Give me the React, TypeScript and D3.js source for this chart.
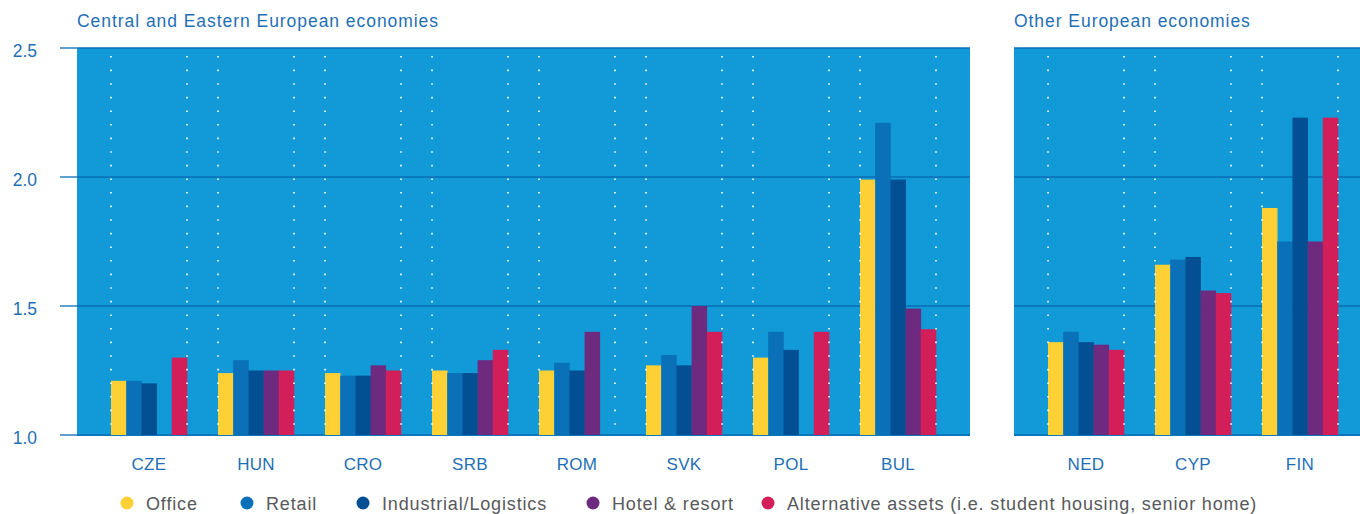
import React from "react";
import * as d3 from "d3";

const seriesNames = ["Office", "Retail", "Industrial/Logistics", "Hotel & resort", "Alternative assets (i.e. student housing, senior home)"];
const seriesColors = ["#fdd035", "#0a70b8", "#034f93", "#6e2a7e", "#d31f59"];

const ceeCategories = ["CZE", "HUN", "CRO", "SRB", "ROM", "SVK", "POL", "BUL"];
const otherCategories = ["NED", "CYP", "FIN"];

// values per category: [Office, Retail, Industrial, Hotel, Alternative]; null = missing
const ceeValues: (number | null)[][] = [
  [1.21, 1.21, 1.2, null, 1.3],
  [1.24, 1.29, 1.25, 1.25, 1.25],
  [1.24, 1.23, 1.23, 1.27, 1.25],
  [1.25, 1.24, 1.24, 1.29, 1.33],
  [1.25, 1.28, 1.25, 1.4, null],
  [1.27, 1.31, 1.27, 1.5, 1.4],
  [1.3, 1.4, 1.33, null, 1.4],
  [1.99, 2.21, 1.99, 1.49, 1.41],
];
const otherValues: (number | null)[][] = [
  [1.36, 1.4, 1.36, 1.35, 1.33],
  [1.66, 1.68, 1.69, 1.56, 1.55],
  [1.88, 1.75, 2.23, 1.75, 2.23],
];

const yTicks = [1.0, 1.5, 2.0, 2.5];
const titles = ["Central and Eastern European economies", "Other European economies"];

const W = 1360;
const H = 514;
const top = 48;
const bottom = 435;
const font = "'Liberation Sans', Arial, sans-serif";
const blueText = "#1f6fb6";
const panelFill = "#119ad7";
const gridColor = "#0a6cb4";

const y = d3.scaleLinear().domain([1, 2.5]).range([bottom, top]);

const PI = 0.29;
const PO = 0.318;
const step = 107;

function Panel({ x0, x1, cats, vals, title }: { x0: number; x1: number; cats: string[]; vals: (number | null)[][]; title: string }) {
  const rangeEnd = x0 + (cats.length - PI + 2 * PO) * step;
  const xb = d3.scaleBand<string>().domain(cats).range([x0, rangeEnd]).paddingInner(PI).paddingOuter(PO);
  const xs = d3.scaleBand<number>().domain(d3.range(5)).range([0, xb.bandwidth()]);
  return (
    <g>
      <rect x={x0} y={top} width={x1 - x0} height={bottom - top + 1} fill={panelFill} />
      {yTicks.map((t) => (
        <line key={t} x1={x0} x2={x1} y1={y(t)} y2={y(t)} stroke={gridColor} strokeWidth={1.3} />
      ))}
      {cats.map((c, i) => (
        <g key={c}>
          {vals[i].map((v, j) =>
            v == null ? null : (
              <rect key={j} x={(xb(c) as number) + (xs(j) as number)} y={y(v)} width={xs.bandwidth() + 0.3} height={y(1) - y(v)} fill={seriesColors[j]} />
            )
          )}
          {[xb(c) as number, (xb(c) as number) + xb.bandwidth()].map((lx, k) => (
            <line key={k} x1={lx} x2={lx} y1={top + 8} y2={bottom} stroke="#ffffff" strokeWidth={1.6} strokeDasharray="1.6 12" />
          ))}
          <text x={(xb(c) as number) + xb.bandwidth() / 2} y={470} textAnchor="middle" fontSize={17} letterSpacing={0.3} fill={blueText} fontFamily={font}>
            {c}
          </text>
        </g>
      ))}
      <text x={x0} y={27} fontSize={17.5} letterSpacing={0.95} fill={blueText} fontFamily={font}>
        {title}
      </text>
    </g>
  );
}

const legendX = [127, 247, 363, 593, 768];

export default function App() {
  return (
    <svg width={W} height={H} style={{ position: "absolute", left: 0, top: 0 }}>
      <rect width={W} height={H} fill="#ffffff" />
      {yTicks.map((t) => (
        <g key={t}>
          <line x1={60} x2={77} y1={y(t)} y2={y(t)} stroke={gridColor} strokeWidth={1.3} />
          <text x={37} y={y(t) + 8.5} textAnchor="end" fontSize={17.5} fill={blueText} fontFamily={font}>
            {t.toFixed(1)}
          </text>
        </g>
      ))}
      <Panel x0={77} x1={970} cats={ceeCategories} vals={ceeValues} title={titles[0]} />
      <Panel x0={1014} x1={1360} cats={otherCategories} vals={otherValues} title={titles[1]} />
      {seriesNames.map((s, i) => (
        <g key={s}>
          <circle cx={legendX[i]} cy={503} r={6.5} fill={seriesColors[i]} />
          <text x={legendX[i] + 19} y={509.5} fontSize={18} letterSpacing={0.85} fill="#58595b" fontFamily={font}>
            {s}
          </text>
        </g>
      ))}
    </svg>
  );
}
